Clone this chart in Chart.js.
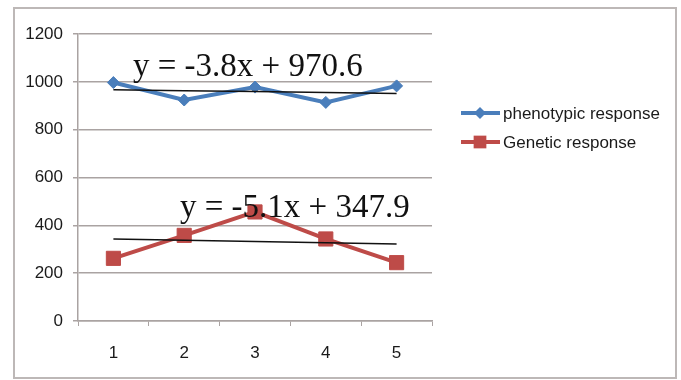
<!DOCTYPE html>
<html>
<head>
<meta charset="utf-8">
<script src="https://cdn.jsdelivr.net/npm/chart.js@4/dist/chart.umd.min.js"></script>
<style>
  html, body { margin: 0; padding: 0; background: #ffffff; }
  #wrap { width: 681px; height: 380px; position: relative; }
</style>
</head>
<body>
<div id="wrap"><canvas id="c" width="681" height="380"></canvas></div>
<script>
// Selection cycles and observed responses
const cycles = ['1', '2', '3', '4', '5'];
const phenotypicResponse = [997, 924, 978, 914, 983];
const geneticResponse = [262, 358, 456, 343, 244];

// Linear trend fits: [slope, intercept]
const phenotypicTrend = [-3.8, 970.6];
const geneticTrend = [-5.1, 347.9];

// Y axis tick values
const yTicks = [0, 200, 400, 600, 800, 1000, 1200];

const seriesNames = ['phenotypic response', 'Genetic response'];
const BLUE = '#4a7ebb';
const RED = '#be4b48';
const GRID = '#aaa3a2';
const TICK_FONT = { family: '"Liberation Sans", Arial, sans-serif', size: 17 };

const trendValues = (fit) => cycles.map((c, i) => fit[0] * (i + 1) + fit[1]);
const equation = (fit) => 'y = ' + fit[0] + 'x + ' + fit[1];

// Frame around the whole chart
const framePlugin = {
  id: 'frame',
  beforeDraw(chart) {
    const ctx = chart.ctx;
    ctx.save();
    ctx.fillStyle = '#ffffff';
    ctx.fillRect(0, 0, chart.width, chart.height);
    ctx.strokeStyle = '#bdb8b7';
    ctx.lineWidth = 2;
    ctx.strokeRect(14, 8, 662, 370);
    ctx.restore();
  }
};

// Trend equations and the legend on the right
const annotatePlugin = {
  id: 'annotate',
  afterDraw(chart) {
    const ctx = chart.ctx;
    ctx.save();
    ctx.fillStyle = '#111111';
    ctx.font = '33px "Liberation Serif", "Times New Roman", serif';
    ctx.textBaseline = 'alphabetic';
    ctx.textAlign = 'left';
    ctx.fillText(equation(phenotypicTrend), 133, 76);
    ctx.fillText(equation(geneticTrend), 180, 217);

    // legend entries: line + marker + label
    const entries = [
      { label: seriesNames[0], color: BLUE, style: 'rectRot', radius: 6, y: 113 },
      { label: seriesNames[1], color: RED, style: 'rect', radius: 9, y: 142 }
    ];
    entries.forEach(e => {
      ctx.strokeStyle = e.color;
      ctx.lineWidth = 4;
      ctx.beginPath();
      ctx.moveTo(461, e.y);
      ctx.lineTo(500, e.y);
      ctx.stroke();
      ctx.fillStyle = e.color;
      ctx.beginPath();
      if (e.style === 'rect') {
        const s = e.radius * Math.SQRT1_2;
        ctx.rect(480 - s, e.y - s, 2 * s, 2 * s);
      } else {
        ctx.moveTo(480, e.y - e.radius);
        ctx.lineTo(480 + e.radius, e.y);
        ctx.lineTo(480, e.y + e.radius);
        ctx.lineTo(480 - e.radius, e.y);
        ctx.closePath();
      }
      ctx.fill();
      ctx.fillStyle = '#1a1a1a';
      ctx.font = '17px "Liberation Sans", Arial, sans-serif';
      ctx.textBaseline = 'middle';
      ctx.fillText(e.label, 503, e.y + 1);
    });
    ctx.restore();
  }
};

new Chart(document.getElementById('c'), {
  type: 'line',
  data: {
    labels: cycles,
    datasets: [
      {
        label: 'phenotypic trend',
        data: trendValues(phenotypicTrend),
        borderColor: '#111111',
        borderWidth: 1.5,
        pointRadius: 0,
        tension: 0,
        order: 0
      },
      {
        label: 'genetic trend',
        data: trendValues(geneticTrend),
        borderColor: '#111111',
        borderWidth: 1.5,
        pointRadius: 0,
        tension: 0,
        order: 0
      },
      {
        label: seriesNames[0],
        data: phenotypicResponse,
        borderColor: BLUE,
        backgroundColor: BLUE,
        borderWidth: 4,
        pointStyle: 'rectRot',
        pointRadius: 6,
        pointBorderWidth: 1,
        tension: 0,
        order: 1
      },
      {
        label: seriesNames[1],
        data: geneticResponse,
        borderColor: RED,
        backgroundColor: RED,
        borderWidth: 4,
        pointStyle: 'rect',
        pointRadius: 10,
        pointBorderWidth: 1,
        tension: 0,
        order: 1
      }
    ]
  },
  options: {
    responsive: false,
    animation: false,
    events: [],
    layout: { padding: { left: 0, top: 34, right: 249, bottom: 0 } },
    plugins: {
      legend: { display: false },
      tooltip: { enabled: false }
    },
    scales: {
      x: {
        offset: true,
        grid: {
          offset: true,
          drawOnChartArea: false,
          drawTicks: true,
          tickLength: 5,
          color: GRID
        },
        border: { color: GRID, width: 1.5 },
        ticks: {
          color: '#1a1a1a',
          font: TICK_FONT,
          padding: 17,
          maxRotation: 0
        },
        afterFit(scale) { scale.height = 59; }
      },
      y: {
        min: yTicks[0],
        max: yTicks[yTicks.length - 1],
        afterBuildTicks(scale) { scale.ticks = yTicks.map(v => ({ value: v })); },
        grid: {
          color: GRID,
          lineWidth: 1.5,
          tickLength: 5,
          drawTicks: true
        },
        border: { color: GRID, width: 1.5 },
        ticks: {
          color: '#1a1a1a',
          font: TICK_FONT,
          padding: 10,
          callback: (v) => String(v)
        },
        afterFit(scale) { scale.width = 78; }
      }
    }
  },
  plugins: [framePlugin, annotatePlugin]
});
</script>
</body>
</html>
